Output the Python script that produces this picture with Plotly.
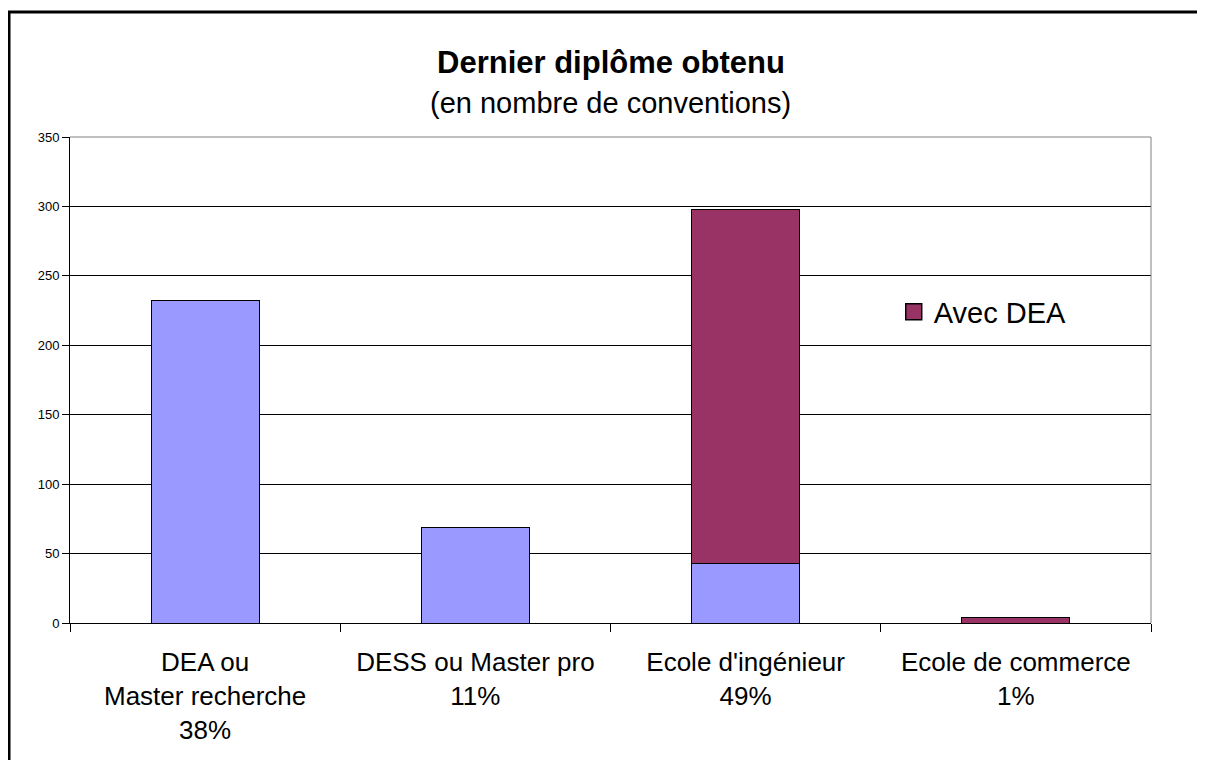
import plotly.graph_objects as go

# categories and values
categories = ["DEA ou<br>Master recherche<br>38%",
              "DESS ou Master pro<br>11%",
              "Ecole d'ingénieur<br>49%",
              "Ecole de commerce<br>1%"]
sans_dea = [232, 69, 43, None]
avec_dea = [None, None, 255, 4]
y_ticks = [0, 50, 100, 150, 200, 250, 300, 350]

FONT = "Arial, Liberation Sans, sans-serif"
BLUE = "#9999FF"
PURPLE = "#993366"

fig = go.Figure()
fig.add_trace(go.Bar(x=categories, y=sans_dea, name="Sans DEA", showlegend=False,
                     marker=dict(color=BLUE, line=dict(color="black", width=1))))
fig.add_trace(go.Bar(x=categories, y=avec_dea, name="Avec DEA", showlegend=False,
                     marker=dict(color=PURPLE, line=dict(color="black", width=1))))
# legend entry with a bigger square swatch, like the original
fig.add_trace(go.Scatter(x=[None], y=[None], mode="markers", name="Avec DEA",
                         marker=dict(symbol="square", size=16, color=PURPLE,
                                     line=dict(color="black", width=1.5))))

# page has an 8px body margin, so the figure is sized/offset to compensate
fig.update_layout(
    barmode="stack",
    bargap=0.6,
    width=1197, height=752,
    margin=dict(l=62, r=54, t=129, b=137),
    paper_bgcolor="white", plot_bgcolor="white",
    font=dict(family=FONT, color="black"),
    legend=dict(x=0.762, y=0.64, xanchor="left", yanchor="middle",
                font=dict(size=29, family=FONT), bgcolor="rgba(0,0,0,0)",
                itemwidth=30, tracegroupgap=0),
    showlegend=True,
)

fig.update_xaxes(
    type="category", showline=True, linecolor="black", linewidth=1,
    ticks="outside", tickson="boundaries", ticklen=8, tickcolor="black",
    tickfont=dict(size=26, family=FONT), showgrid=False,
    ticklabelstandoff=16,
)
fig.update_yaxes(
    range=[0, 350], tickvals=y_ticks, showline=True, linecolor="black", linewidth=1,
    ticks="outside", ticklen=7, tickcolor="black", tickfont=dict(size=13, family=FONT),
    showgrid=True, gridcolor="black", gridwidth=1, zeroline=False,
)

# grey plot-area border (top and right)
fig.add_shape(type="line", xref="paper", yref="paper", x0=0, x1=1, y0=1, y1=1,
              line=dict(color="#808080", width=1), layer="above")
fig.add_shape(type="line", xref="paper", yref="paper", x0=1, x1=1, y0=0, y1=1,
              line=dict(color="#808080", width=1), layer="above")

# outer frame of the chart (runs off the right and bottom edges)
fig.add_shape(type="rect", xref="paper", yref="paper",
              x0=-61 / 1081, x1=1.1, y0=-0.4, y1=(486 + 125) / 486,
              line=dict(color="black", width=3), layer="above")

fig.add_annotation(text="<b>Dernier diplôme obtenu</b>", xref="paper", yref="paper",
                   x=0.5, y=(623 - 63) / 486, yanchor="middle", showarrow=False,
                   font=dict(size=31, family=FONT))
fig.add_annotation(text="(en nombre de conventions)", xref="paper", yref="paper",
                   x=0.5, y=(623 - 103) / 486, yanchor="middle", showarrow=False,
                   font=dict(size=29, family=FONT))

fig.write_html("out.html")
